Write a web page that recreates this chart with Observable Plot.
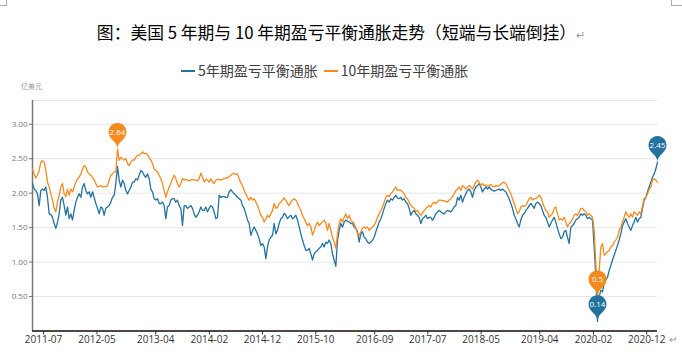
<!DOCTYPE html>
<html><head><meta charset="utf-8">
<script src="https://cdn.jsdelivr.net/npm/d3@7"></script>
<script src="https://cdn.jsdelivr.net/npm/@observablehq/plot@0.6"></script>
<style>
html,body{margin:0;padding:0;background:#fff;}
#wrap{position:relative;width:682px;height:355px;overflow:hidden;font-family:"Noto Sans CJK SC",sans-serif;background:#fff;}
.title{position:absolute;left:0;width:682px;top:21px;text-align:center;font-size:16.8px;line-height:22px;color:#000;white-space:nowrap;font-weight:400;}
.ret{color:#999;font-size:11px;}
.legend{position:absolute;left:181px;top:60px;font-size:14px;line-height:20px;color:#404040;white-space:nowrap;}
.legend span.item{margin-right:6px;}
.sw{display:inline-block;width:14px;height:2px;vertical-align:middle;margin-right:3px;position:relative;top:-1px;}
.unit{position:absolute;left:21px;top:81px;font-size:7px;line-height:10px;color:#999;}
#chart{position:absolute;left:0;top:80px;}
.corner{position:absolute;border-color:#aaa;border-style:solid;border-width:0;}
.bret{position:absolute;left:669px;top:333px;font-size:10px;line-height:12px;color:#999;}
</style></head>
<body>
<div id="wrap">
  <div class="corner" style="left:0;top:0;width:6px;height:5px;border-right-width:1px;border-bottom-width:1px;"></div>
  <div class="corner" style="left:671px;top:0;width:11px;height:5px;border-left-width:1px;border-bottom-width:1px;"></div>
  <div class="title">图：美国 5 年期与 10 年期盈亏平衡通胀走势（短端与长端倒挂）<span class="ret">↵</span></div>
  <div class="legend" id="legend"></div>
  <div class="unit">亿美元</div>
  <div id="chart"></div>
  <div class="bret">↵</div>
</div>
<script>
// Series names and colours
const seriesNames = ["5年期盈亏平衡通胀", "10年期盈亏平衡通胀"];
const seriesColors = ["#23739e", "#f58a1f"];

// Observations (roughly every 9.5 days) from 2011-04-29
const startDate = "2011-04-29";
const stepDays = 9.5075;

const be5 = [
2.14,2.06,2.04,1.99,1.82,2.04,2.06,2.04,2.09,1.94,1.70,1.69,1.65,1.56,1.49,1.58,1.70,1.90,1.94,1.82,
1.68,1.80,1.63,1.70,1.61,1.75,1.87,1.94,1.99,1.94,2.09,2.14,2.04,1.99,2.02,1.94,2.02,1.94,1.85,1.78,
1.70,1.80,1.78,1.68,1.78,1.80,1.82,1.87,1.94,1.97,2.14,2.39,2.19,2.09,2.19,2.14,2.04,1.99,2.04,2.09,
2.16,2.16,2.21,2.19,2.26,2.33,2.31,2.26,2.23,2.28,2.21,2.06,2.02,1.92,1.90,1.92,1.85,1.85,1.87,1.82,
1.63,1.80,1.82,1.90,1.92,1.92,1.87,1.90,1.82,1.78,1.53,1.82,1.82,1.78,1.80,1.82,1.78,1.70,1.65,1.68,
1.73,1.80,1.75,1.75,1.80,1.73,1.78,1.82,1.80,1.73,1.63,1.65,1.97,1.94,1.95,1.95,1.94,1.94,2.02,2.05,
2.02,1.99,1.97,1.94,1.92,1.90,1.82,1.78,1.70,1.61,1.56,1.39,1.46,1.51,1.46,1.41,1.34,1.24,1.27,1.22,
1.05,1.22,1.32,1.36,1.39,1.56,1.41,1.46,1.56,1.63,1.65,1.71,1.68,1.63,1.66,1.68,1.63,1.65,1.68,1.61,
1.51,1.41,1.32,1.24,1.17,1.17,1.20,1.12,1.03,1.12,1.15,1.17,1.20,1.22,1.27,1.22,1.29,1.27,1.32,1.27,
1.12,1.03,0.94,1.32,1.46,1.56,1.51,1.58,1.61,1.59,1.58,1.56,1.56,1.51,1.49,1.44,1.29,1.41,1.44,1.36,
1.34,1.29,1.27,1.29,1.32,1.36,1.44,1.51,1.58,1.63,1.70,1.78,1.85,1.90,1.87,1.92,1.90,1.94,1.97,1.93,
1.92,1.94,1.90,1.92,1.87,1.85,1.78,1.68,1.73,1.75,1.70,1.68,1.65,1.56,1.63,1.65,1.68,1.63,1.65,1.65,
1.61,1.65,1.70,1.73,1.75,1.73,1.71,1.70,1.73,1.75,1.74,1.73,1.76,1.80,1.82,1.94,1.90,1.97,1.87,1.94,
1.99,2.04,2.06,2.02,1.94,2.04,2.09,2.11,2.14,2.09,2.02,2.06,2.09,2.06,2.09,2.06,2.04,2.03,2.04,2.05,
2.06,2.04,2.06,2.04,2.02,1.97,1.92,1.85,1.78,1.68,1.63,1.56,1.51,1.61,1.68,1.70,1.75,1.78,1.82,1.85,
1.82,1.78,1.85,1.87,1.85,1.82,1.75,1.68,1.65,1.58,1.51,1.56,1.61,1.65,1.58,1.49,1.41,1.34,1.36,1.44,
1.46,1.36,1.27,1.51,1.53,1.56,1.61,1.63,1.65,1.70,1.68,1.70,1.68,1.63,1.65,1.63,1.61,1.22,0.78,0.14,
0.50,0.59,0.57,0.69,0.74,0.78,0.88,0.95,1.03,1.10,1.17,1.24,1.32,1.41,1.53,1.58,1.63,1.56,1.51,1.46,
1.53,1.58,1.65,1.58,1.63,1.65,1.78,1.90,1.94,2.02,2.09,2.16,2.23,2.28,2.35,2.45
];

const be10 = [
2.35,2.28,2.22,2.26,2.33,2.45,2.47,2.45,2.33,2.16,2.09,1.99,1.90,1.78,1.73,1.87,1.97,2.09,2.14,1.99,
1.95,2.06,1.97,2.06,2.02,2.09,2.16,2.21,2.23,2.28,2.35,2.40,2.38,2.31,2.28,2.26,2.23,2.19,2.14,2.09,
2.10,2.11,2.09,2.10,2.09,2.11,2.19,2.26,2.28,2.31,2.31,2.64,2.48,2.52,2.50,2.48,2.50,2.43,2.40,2.45,
2.48,2.48,2.52,2.55,2.55,2.57,2.60,2.57,2.58,2.56,2.52,2.48,2.43,2.35,2.33,2.31,2.26,2.21,2.14,2.04,
1.94,2.02,2.09,2.14,2.21,2.26,2.21,2.14,2.09,2.14,2.21,2.19,2.20,2.19,2.18,2.19,2.20,2.19,2.19,2.18,
2.21,2.29,2.23,2.16,2.20,2.19,2.16,2.21,2.16,2.14,2.19,2.20,2.20,2.19,2.20,2.21,2.22,2.22,2.24,2.26,
2.28,2.29,2.27,2.28,2.21,2.15,2.11,2.04,1.99,1.94,1.90,1.94,1.90,1.92,1.87,1.82,1.75,1.68,1.65,1.58,
1.63,1.68,1.65,1.70,1.75,1.85,1.78,1.80,1.85,1.87,1.90,1.93,1.90,1.85,1.82,1.87,1.90,1.92,1.90,1.85,
1.80,1.75,1.68,1.63,1.58,1.53,1.56,1.51,1.39,1.46,1.53,1.58,1.53,1.56,1.58,1.61,1.56,1.46,1.56,1.46,
1.36,1.29,1.20,1.41,1.56,1.63,1.58,1.65,1.70,1.63,1.68,1.61,1.58,1.56,1.49,1.41,1.39,1.44,1.49,1.51,
1.49,1.51,1.46,1.49,1.51,1.53,1.58,1.65,1.70,1.75,1.80,1.87,1.94,1.97,1.95,1.99,2.02,2.06,2.09,2.04,
2.05,2.04,2.02,1.99,1.94,1.92,1.87,1.82,1.80,1.78,1.73,1.75,1.71,1.68,1.71,1.75,1.78,1.80,1.82,1.80,
1.85,1.87,1.85,1.88,1.90,1.90,1.89,1.89,1.88,1.87,1.90,1.92,1.95,1.99,2.04,2.06,2.09,2.04,2.11,2.09,
2.06,2.09,2.11,2.09,2.06,2.11,2.16,2.19,2.16,2.11,2.14,2.11,2.12,2.10,2.11,2.13,2.10,2.09,2.11,2.10,
2.11,2.13,2.15,2.16,2.14,2.09,2.04,1.99,1.92,1.85,1.78,1.70,1.73,1.80,1.82,1.81,1.82,1.87,1.92,1.94,
1.90,1.92,1.92,1.94,1.97,1.94,1.87,1.80,1.75,1.73,1.65,1.68,1.70,1.78,1.80,1.70,1.61,1.63,1.61,1.65,
1.58,1.51,1.56,1.58,1.63,1.68,1.70,1.68,1.73,1.78,1.78,1.75,1.73,1.68,1.70,1.68,1.65,1.46,0.98,0.50,
0.88,1.22,1.27,1.10,1.12,1.15,1.17,1.22,1.24,1.29,1.32,1.36,1.46,1.51,1.58,1.65,1.73,1.68,1.65,1.70,
1.65,1.73,1.70,1.68,1.73,1.70,1.82,1.92,1.94,1.99,2.06,2.09,2.19,2.21,2.19,2.16
];

// Axis ticks
const xTickLabels = ["2011-07","2012-05","2013-04","2014-02","2014-12","2015-10","2016-09","2017-07","2018-05","2019-04","2020-02","2020-12"];
const yTickValues = [0.5, 1, 1.5, 2, 2.5, 3];
const yMax = 3.345;

const parseDay = d3.timeParse("%Y-%m-%d");
const parseMonth = d3.timeParse("%Y-%m");
const t0 = parseDay(startDate);
const dateAt = i => new Date(+t0 + i * stepDays * 864e5);
const s5 = be5.map((v, i) => ({date: dateAt(i), v}));
const s10 = be10.map((v, i) => ({date: dateAt(i), v}));
const xTicks = xTickLabels.map(parseMonth);
const xDomain = [s5[0].date, s5[s5.length - 1].date];

// ECharts-style pin symbol, tip at the data point
function pin(r, h) {
  return {
    draw(ctx) {
      const x = 0, y = 0;
      const dy = r * r / (h - r);
      const cy = y - h + r + dy;
      const a = Math.asin(dy / r);
      const dx = Math.cos(a) * r;
      const tx = Math.sin(a), ty = Math.cos(a);
      const c1 = r * 0.6, c2 = r * 0.7;
      ctx.moveTo(x - dx, cy + dy);
      ctx.arc(x, cy, r, Math.PI - a, Math.PI * 2 + a);
      ctx.bezierCurveTo(x + dx - tx * c1, cy + dy + ty * c1, x, y - c2, x, y);
      ctx.bezierCurveTo(x, y - c2, x - dx + tx * c1, cy + dy + ty * c1, x - dx, cy + dy);
      ctx.closePath();
    }
  };
}
const pinSym = pin(9, 30);

const m5 = [d3.greatest(s5, d => d.v), d3.least(s5, d => d.v)];
const m10 = [d3.greatest(s10, d => d.v), d3.least(s10, d => d.v)];

const chart = Plot.plot({
  width: 682,
  height: 275,
  marginLeft: 32,
  marginRight: 25,
  marginTop: 20,
  marginBottom: 24.5,
  style: {fontFamily: "'Open Sans', sans-serif", background: "transparent", overflow: "visible"},
  x: {type: "time", domain: xDomain},
  y: {domain: [0, yMax]},
  marks: [
    Plot.ruleY([...yTickValues, yMax], {stroke: "#e6e6e6", strokeWidth: 1}),
    Plot.axisY({ticks: yTickValues, tickFormat: d3.format(".2f"), tickSize: 3, tickPadding: 2, fontSize: 8, color: "#777", label: null}),
    Plot.ruleX([xDomain[0]], {y1: 0, y2: yMax, stroke: "#777", strokeWidth: 1.5}),
    Plot.line(s5, {x: "date", y: "v", stroke: seriesColors[0], strokeWidth: 1.3}),
    Plot.line(s10, {x: "date", y: "v", stroke: seriesColors[1], strokeWidth: 1.3}),
    Plot.ruleY([0], {stroke: "#4f4545", strokeWidth: 2}),
    Plot.axisX({ticks: xTicks, tickFormat: d3.timeFormat("%Y-%m"), tickSize: 4, tickPadding: 1, fontSize: 10, color: "#333", label: null}),
    Plot.dot(m5, {x: "date", y: "v", symbol: pinSym, fill: seriesColors[0], stroke: "none"}),
    Plot.text(m5, {x: "date", y: "v", text: d => String(d.v), dy: -17, fill: "white", fontSize: 8}),
    Plot.dot(m10, {x: "date", y: "v", symbol: pinSym, fill: seriesColors[1], stroke: "none"}),
    Plot.text(m10, {x: "date", y: "v", text: d => String(d.v), dy: -17, fill: "white", fontSize: 8})
  ]
});
document.getElementById("chart").appendChild(chart);

const lg = document.getElementById("legend");
seriesNames.forEach((n, i) => {
  const it = document.createElement("span");
  it.className = "item";
  it.innerHTML = `<span class="sw" style="background:${seriesColors[i]}"></span>${n}`;
  lg.appendChild(it);
});
</script>
</body></html>
